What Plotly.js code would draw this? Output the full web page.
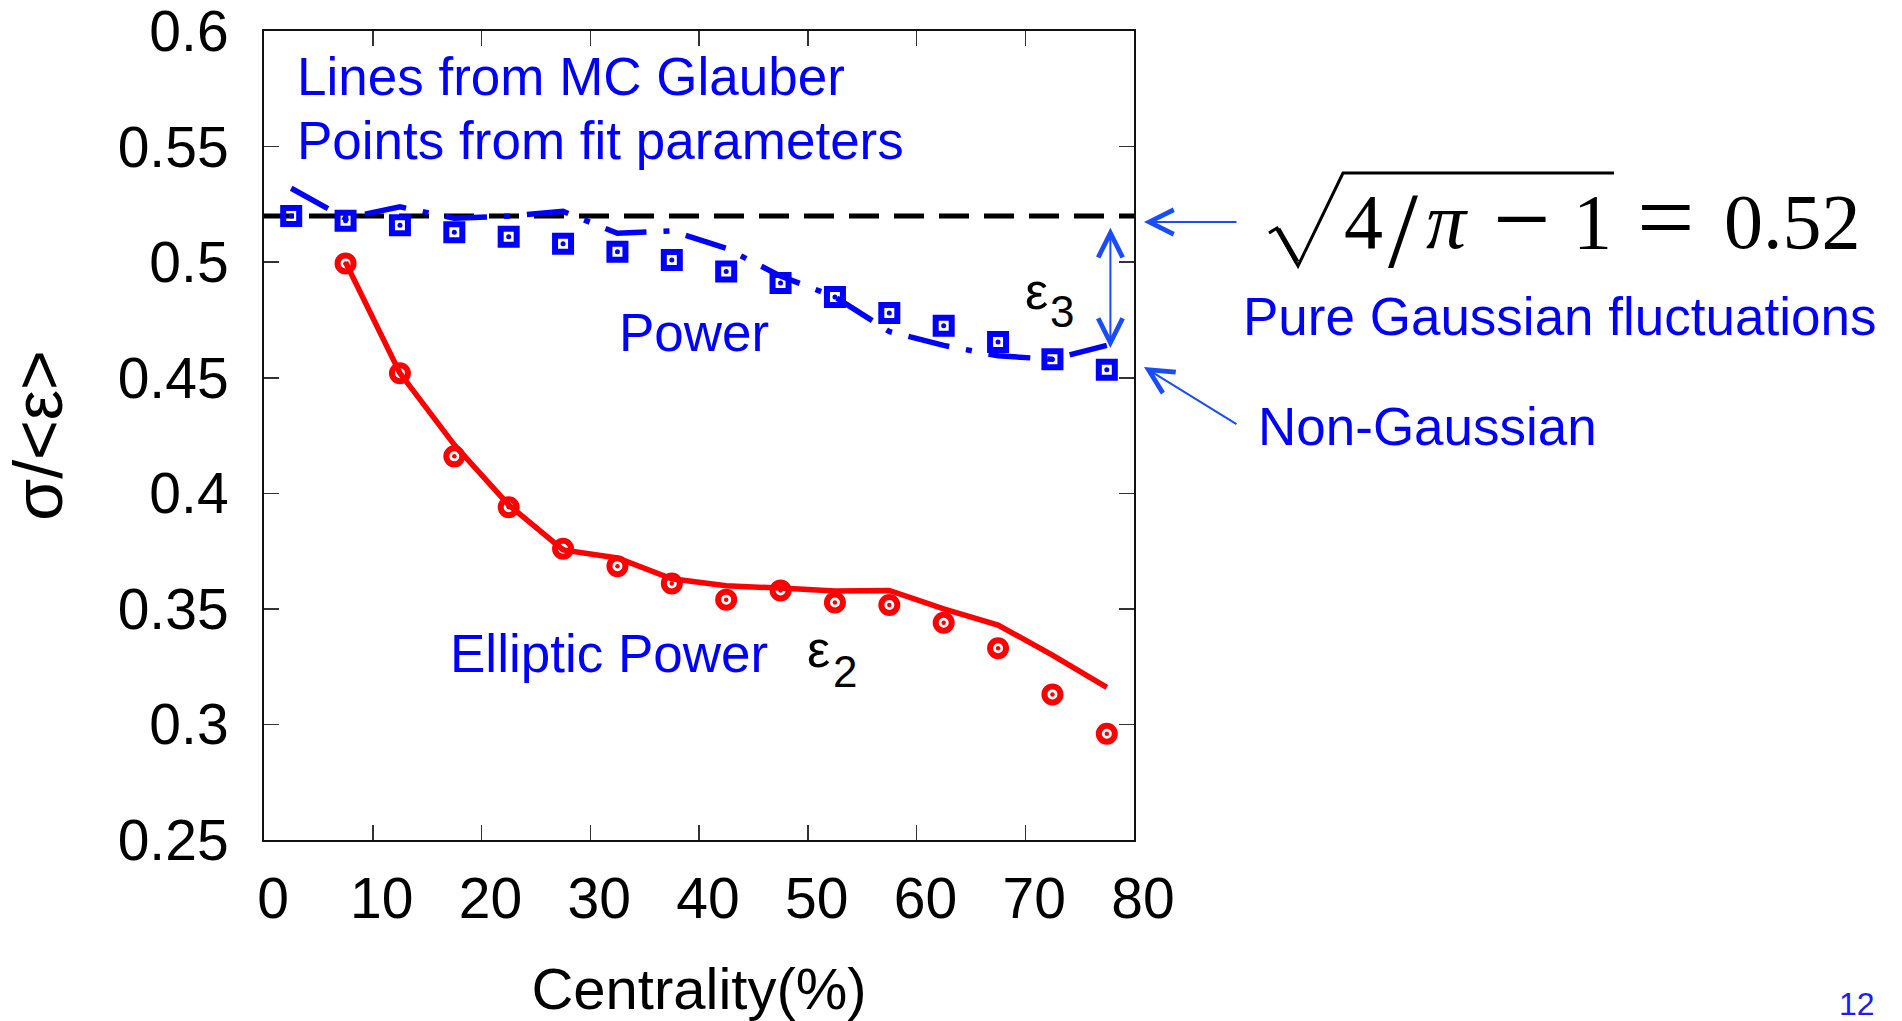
<!DOCTYPE html>
<html>
<head>
<meta charset="utf-8">
<script src="https://cdn.plot.ly/plotly-3.0.1.min.js"></script>
<style>html,body{margin:0;padding:0;background:#fff;}#chart{width:1902px;height:1021px;}</style>
</head>
<body>
<div id="chart"></div>
<script>
// ---- data ----
const centralityE3 = [2.5, 7.5, 12.5, 17.5, 22.5, 27.5, 32.5, 37.5, 42.5, 47.5, 52.5, 57.5, 62.5, 67.5, 72.5, 77.5];
const glauberE3 = [0.532, 0.519, 0.524, 0.519, 0.520, 0.522, 0.5125, 0.5136, 0.506, 0.494, 0.485, 0.470, 0.464, 0.4595, 0.458, 0.464];
const fitE3 = [0.520, 0.518, 0.516, 0.513, 0.511, 0.508, 0.5045, 0.501, 0.496, 0.491, 0.485, 0.478, 0.4725, 0.4655, 0.458, 0.4535];
const centralityE2 = [7.5, 12.5, 17.5, 22.5, 27.5, 32.5, 37.5, 42.5, 47.5, 52.5, 57.5, 62.5, 67.5, 72.5, 77.5];
const glauberE2 = [0.500, 0.452, 0.421, 0.395, 0.3755, 0.372, 0.363, 0.360, 0.359, 0.3577, 0.358, 0.350, 0.343, 0.330, 0.316];
const fitE2 = [0.4995, 0.452, 0.416, 0.394, 0.376, 0.3685, 0.361, 0.354, 0.358, 0.3528, 0.3517, 0.344, 0.333, 0.313, 0.296];
const gaussianLimitX = [0, 80];
const gaussianLimitY = [0.52, 0.52];
const xTickVals = [0, 10, 20, 30, 40, 50, 60, 70, 80];
const xTickText = ['0', '10', '20', '30', '40', '50', '60', '70', '80'];
const yTickVals = [0.25, 0.3, 0.35, 0.4, 0.45, 0.5, 0.55, 0.6];
const yTickText = ['0.25', '0.3', '0.35', '0.4', '0.45', '0.5', '0.55', '0.6'];
const epsArrowX = 77.83, epsArrowTop = 0.5156, epsArrowBottom = 0.4629;

// ---- layout helpers (pixel -> paper) ----
const W = 1902, H = 1021, L = 264, R = 1134, T = 31, B = 840;
const PX = p => (p - L) / (R - L);
const PY = p => (B - p) / (B - T);

const SANS = 'Liberation Sans, Arial, Helvetica, sans-serif';
const SERIF = 'Liberation Serif, Times New Roman, serif';
const BLUE = '#0000ff';
const ARROW = '#1a4cff';
const RED = '#ff0000';

const traces = [
  { x: gaussianLimitX, y: gaussianLimitY, mode: 'lines', line: { color: '#000', width: 5, dash: '30px,15px' }, hoverinfo: 'skip', showlegend: false },
  { x: centralityE3, y: glauberE3, mode: 'lines', line: { color: BLUE, width: 5.5, dash: '42px,17px,6px,17px' }, showlegend: false, name: 'MC Glauber ε3' },
  { x: centralityE3, y: fitE3, mode: 'markers', marker: { symbol: 'square-open', size: 16, color: BLUE, line: { width: 6, color: BLUE } }, showlegend: false, name: 'Power fit ε3' },
  { x: centralityE3, y: fitE3, mode: 'markers', marker: { symbol: 'circle', size: 5, color: BLUE }, hoverinfo: 'skip', showlegend: false },
  { x: centralityE2, y: glauberE2, mode: 'lines', line: { color: RED, width: 5.5 }, showlegend: false, name: 'MC Glauber ε2' },
  { x: centralityE2, y: fitE2, mode: 'markers', marker: { symbol: 'circle-open', size: 16, color: RED, line: { width: 6, color: RED } }, showlegend: false, name: 'Elliptic Power fit ε2' },
  { x: centralityE2, y: fitE2, mode: 'markers', marker: { symbol: 'circle', size: 4.5, color: RED }, hoverinfo: 'skip', showlegend: false }
];

function txt(text, px, py, size, color, family, anchor) {
  return { text: text, xref: 'paper', yref: 'paper', x: PX(px), y: PY(py), xanchor: anchor || 'left', yanchor: 'middle',
           showarrow: false, font: { size: size, color: color, family: family || SANS }, borderpad: 0 };
}
// math pieces placed by their baseline (baseline ≈ box centre + size/3)
function mathPiece(text, cx, baseline, size) {
  return txt(text, cx, baseline - size / 3, size, '#000', SERIF, 'center');
}

const annotations = [
  txt('Lines from MC Glauber', 296, 76, 53, BLUE),
  txt('Points from fit parameters', 296, 140, 53, BLUE),
  txt('Power', 618, 332, 53, BLUE),
  txt('Elliptic Power', 449, 653, 53, BLUE),
  txt('ε', 806, 649, 52, '#000'),
  txt('2', 832, 671, 44, '#000'),
  txt('ε', 1024, 291, 52, '#000'),
  txt('3', 1049, 311, 44, '#000'),
  txt('Pure Gaussian fluctuations', 1242, 316, 53, BLUE),
  txt('Non-Gaussian', 1257, 426, 53, BLUE),
  // √(4/π − 1) = 0.52
  mathPiece('4', 1363, 248, 78),
  mathPiece('/', 1403, 266, 108),
  mathPiece('<i>π</i>', 1447, 248, 80),
  mathPiece('−', 1522, 252, 102),
  mathPiece('1', 1592, 248, 78),
  mathPiece('=', 1666, 250, 102),
  mathPiece('0.52', 1792, 248, 78),
  txt('12', 1838, 1004, 32, '#1a1aff'),
  // arrows
  { xref: 'paper', yref: 'paper', x: PX(1144), y: PY(222), ax: 94, ay: 0, text: '', showarrow: true,
    arrowhead: 5, arrowsize: 2.4, arrowwidth: 2, arrowcolor: ARROW },
  { xref: 'paper', yref: 'paper', x: PX(1144), y: PY(367), ax: 94, ay: 58, text: '', showarrow: true,
    arrowhead: 5, arrowsize: 2.4, arrowwidth: 2, arrowcolor: ARROW },
  { xref: 'x', yref: 'y', x: epsArrowX, y: epsArrowBottom, axref: 'x', ayref: 'y', ax: epsArrowX, ay: epsArrowTop, text: '',
    showarrow: true, arrowhead: 5, startarrowhead: 5, arrowside: 'end+start', arrowsize: 2.4, startarrowsize: 2.4, arrowwidth: 2, arrowcolor: ARROW }
];

const shapes = [
  // radical sign and vinculum for the square root
  { type: 'path', xref: 'paper', yref: 'paper', layer: 'above',
    path: 'M' + PX(1269) + ',' + PY(233) + ' L' + PX(1277) + ',' + PY(228) + ' L' + PX(1298) + ',' + PY(266) + ' L' + PX(1343) + ',' + PY(173) + ' L' + PX(1614) + ',' + PY(173),
    line: { color: '#000', width: 3 } },
  { type: 'line', xref: 'paper', yref: 'paper', x0: PX(1278), y0: PY(229), x1: PX(1297), y1: PY(262), line: { color: '#000', width: 5 } }
];

const axisCommon = {
  showgrid: false, zeroline: false, showline: true, linecolor: '#111', linewidth: 2, mirror: 'ticks',
  ticks: 'inside', ticklen: 15, tickwidth: 1.5, tickcolor: '#333', ticklabeloverflow: 'allow',
  tickfont: { family: SANS, size: 57, color: '#000' }
};

const layout = {
  width: W, height: H, paper_bgcolor: '#fff', plot_bgcolor: '#fff',
  margin: { l: L, r: W - R, t: T, b: H - B, pad: 0 },
  showlegend: false,
  xaxis: Object.assign({}, axisCommon, {
    range: [0, 80], tickvals: xTickVals, ticktext: xTickText, ticklabelstandoff: 8, ticklabelshift: 9,
    title: { text: 'Centrality(%)', font: { family: SANS, size: 58, color: '#000' }, standoff: 40 }
  }),
  yaxis: Object.assign({}, axisCommon, {
    range: [0.25, 0.60005], tickvals: yTickVals, ticktext: yTickText, ticklabelstandoff: 22,
    title: { text: 'σ/<ε>', font: { family: SANS, size: 68, color: '#000' }, standoff: 40 }
  }),
  annotations: annotations,
  shapes: shapes
};

Plotly.newPlot('chart', traces, layout, { staticPlot: true, displayModeBar: false });
</script>
</body>
</html>
